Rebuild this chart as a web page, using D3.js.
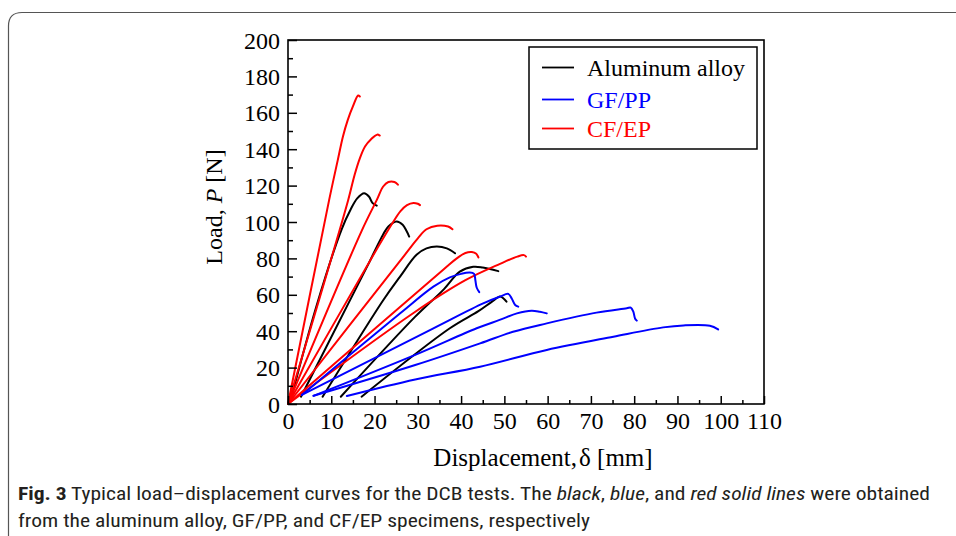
<!DOCTYPE html>
<html><head><meta charset="utf-8">
<script src="https://cdn.jsdelivr.net/npm/d3@7"></script>
<style>body{margin:0;background:#fff}svg{display:block}</style>
</head><body>
<svg id="c" width="956" height="536"></svg>
<script>
// ---- data (displacement mm, load N) ----
const xTicks = [0,10,20,30,40,50,60,70,80,90,100,110];
const yTicks = [0,20,40,60,80,100,120,140,160,180,200];
const legendLabels = ["Aluminum alloy","GF/PP","CF/EP"];
const seriesColors = ["#000000","#0000ff","#ff0000"];

const aluminumCurves = [
  [[0.5,1],[6.6,54],[12.4,96],[14.5,107],[16,113],[17.6,115.8],[18.7,114],[19.5,110.5],[20.5,109]],
  [[3,4],[13.9,55],[18.6,77],[21.5,91],[23.2,97.5],[25.1,100.3],[26.5,98.5],[27.4,95],[28,92]],
  [[8,4],[22,57],[25.9,70],[29.7,82],[32,85.5],[34.4,86.5],[36.7,85.5],[38.6,82.8]],
  [[12.2,4],[29.4,48],[36,63],[39.7,72.7],[42.8,75.4],[45,75],[48.6,73]],
  [[17,4],[37.4,41.6],[44,51],[47,56],[49,59],[49.8,58],[50.5,56.2]]
];
const gfppCurves = [
  [[3.2,5],[26,50],[33.6,64.5],[37.4,69.6],[40,71.5],[42,72.2],[43,71.5],[43.3,68],[43.6,64],[44.2,61.5]],
  [[3.2,5],[33.6,41.6],[45.1,55.3],[49,59],[50.9,60.5],[51.7,58],[52.5,54.4],[53.2,53.5]],
  [[5.9,4.5],[29.4,27],[43.6,41.6],[48.9,46.2],[52.9,49.8],[56.3,51.3],[58.2,50.7],[59.8,49.8]],
  [[5.9,4.5],[29.4,21.4],[44.4,33.3],[52,39.7],[59.8,44.3],[71.3,50.2],[78.3,52.6],[79.2,53],[79.8,50.7],[80.2,47],[80.6,45.8]],
  [[13.6,4.4],[29.4,13.5],[44.4,20.5],[59.8,29.7],[75.2,37],[86.7,42.1],[91.4,43.2],[97.5,43],[99.4,41]]
];
const cfepCurves = [
  [[0,0],[9.5,112],[11.5,134],[12.7,147],[13.8,156],[15,163.5],[16.2,169.5],[16.6,169]],
  [[0,0],[13.9,112],[15.4,126],[16.6,135],[17.8,141.5],[19.2,145.5],[20.6,148],[21.2,147.5]],
  [[0,0],[17,95],[20.5,112],[22,119.5],[23.2,122],[24.6,122],[25.4,120.5]],
  [[0,0],[20,83],[24.3,100],[26,106],[27.5,109.3],[29,110.5],[30,110],[30.5,109.3]],
  [[0,0],[27,82],[30,91],[32,96],[34.5,98],[37,97.5],[38,96]],
  [[0,0],[36,74],[39,80],[41,83],[42.5,83.5],[43.5,82.5],[44,80.5]],
  [[0,0],[29,50],[41,68],[49,77],[53,81],[54.5,81.8],[55,81]]
];

// ---- drawing ----
const svg = d3.select("#c");
const serif = "'Liberation Serif','Times New Roman',serif";
const L=288, R=764, T=40, B=404;
const x = d3.scaleLinear().domain([0,110]).range([L,R]);
const y = d3.scaleLinear().domain([0,200]).range([B,T]);

// card border
svg.append("path").attr("d",`M8.5,540 V26 Q8.5,12.5 22,12.5 H960`)
  .attr("fill","none").attr("stroke","#555").attr("stroke-width",1.2);

// curves
const line = d3.line().x(d=>x(d[0])).y(d=>y(d[1])).curve(d3.curveCatmullRom.alpha(0.5));
const groups = [[aluminumCurves,0],[cfepCurves,2],[gfppCurves,1]];
groups.forEach(([curves,ci])=>{
  svg.append("g").selectAll("path").data(curves).join("path")
    .attr("d",line).attr("fill","none").attr("stroke",seriesColors[ci])
    .attr("stroke-width",2).attr("stroke-linejoin","round").attr("stroke-linecap","round");
});

// frame
svg.append("rect").attr("x",L).attr("y",T).attr("width",R-L).attr("height",B-T)
  .attr("fill","none").attr("stroke","#000").attr("stroke-width",1.6);

// axes (inward ticks)
const xMinor = d3.range(5,110,10);
const yMinor = d3.range(10,200,20);
const gx = svg.append("g").attr("transform",`translate(0,${B})`)
  .call(d3.axisBottom(x).tickValues(xTicks).tickSize(-8).tickPadding(16).tickFormat(d3.format("d")));
const gxm = svg.append("g").attr("transform",`translate(0,${B})`)
  .call(d3.axisBottom(x).tickValues(xMinor).tickSize(-4).tickFormat(""));
const gy = svg.append("g").attr("transform",`translate(${L},0)`)
  .call(d3.axisLeft(y).tickValues(yTicks).tickSize(-9).tickPadding(8).tickFormat(d3.format("d")));
const gym = svg.append("g").attr("transform",`translate(${L},0)`)
  .call(d3.axisLeft(y).tickValues(yMinor).tickSize(-5).tickFormat(""));
[gx,gxm,gy,gym].forEach(g=>{
  g.select(".domain").remove();
  g.selectAll(".tick line").attr("stroke","#000").attr("stroke-width",1.5);
  g.selectAll("text").attr("font-family",serif).attr("font-size",24).attr("fill","#000");
});
gx.selectAll("text").attr("dy",0).attr("y",25);
gy.selectAll("text").attr("dy",0).attr("y",8);

// axis titles
const xt = svg.append("text").attr("x",543).attr("y",466).attr("text-anchor","middle")
  .attr("font-family",serif).attr("font-size",25);
xt.append("tspan").text("Displacement,");
xt.append("tspan").text("δ").attr("dx",2);
xt.append("tspan").text(" [mm]");

const yt = svg.append("text").attr("transform","translate(222,207) rotate(-90)")
  .attr("text-anchor","middle").attr("font-family",serif).attr("font-size",24);
yt.append("tspan").text("Load,  ");
yt.append("tspan").text("P").attr("font-style","italic");
yt.append("tspan").text(" [N]");

// legend
svg.append("rect").attr("x",529).attr("y",47).attr("width",228).attr("height",102)
  .attr("fill","#fff").attr("stroke","#000").attr("stroke-width",1.5);
const legY = [67.5,99.5,128.5];
[0,1,2].forEach((ci,i)=>{
  svg.append("line").attr("x1",542).attr("x2",574).attr("y1",legY[i]).attr("y2",legY[i])
    .attr("stroke",seriesColors[ci]).attr("stroke-width",1.8);
  svg.append("text").attr("x",587).attr("y",legY[i]+8.5).attr("font-family",serif)
    .attr("font-size",24).attr("fill",seriesColors[ci]).text(legendLabels[ci]);
});

// caption
const sans = "'Liberation Sans Narrow','Roboto Condensed','Open Sans',sans-serif";
const c1 = svg.append("text").attr("x",18).attr("y",500).attr("font-family",sans)
  .attr("font-size",17.5).attr("fill","#231f20")
  .attr("textLength",912).attr("lengthAdjust","spacingAndGlyphs");
c1.append("tspan").text("Fig. 3").attr("font-weight","bold");
c1.append("tspan").text("  Typical load–displacement curves for the DCB tests. The ");
c1.append("tspan").text("black").attr("font-style","italic");
c1.append("tspan").text(", ");
c1.append("tspan").text("blue").attr("font-style","italic");
c1.append("tspan").text(", and ");
c1.append("tspan").text("red solid lines").attr("font-style","italic");
c1.append("tspan").text(" were obtained");
svg.append("text").attr("x",18).attr("y",527).attr("font-family",sans)
  .attr("font-size",17.5).attr("fill","#231f20")
  .attr("textLength",572).attr("lengthAdjust","spacingAndGlyphs")
  .text("from the aluminum alloy, GF/PP, and CF/EP specimens, respectively");
</script>
</body></html>
